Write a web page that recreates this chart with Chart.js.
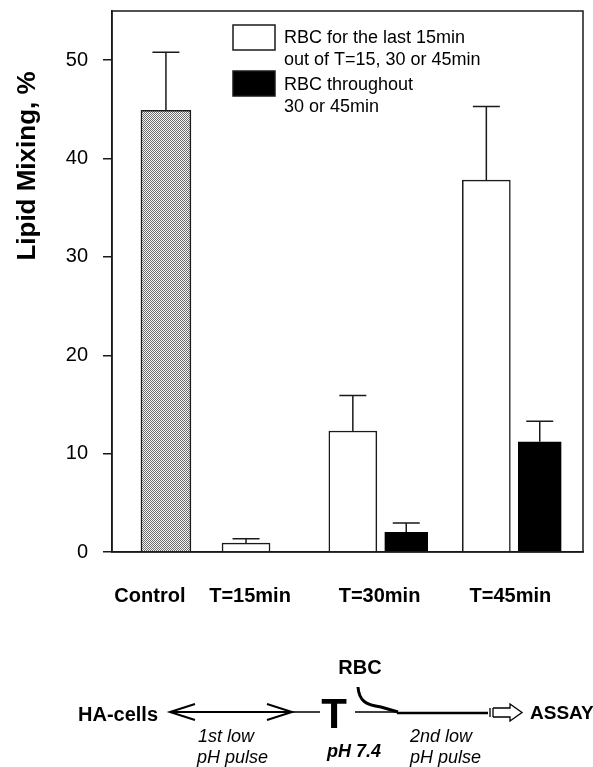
<!DOCTYPE html>
<html>
<head>
<meta charset="utf-8">
<script src="https://cdn.jsdelivr.net/npm/chart.js@4/dist/chart.umd.min.js"></script>
<style>
  body { margin: 0; background: #fff; }
  canvas { display: block; }
</style>
</head>
<body>
<canvas id="mixChart" width="593" height="767"></canvas>
<script>
// Lipid mixing data
const categories = ['Control', 'T=15min', 'T=30min', 'T=45min'];
const controlMixing = [44.9, null, null, null];
const controlErr = [5.9, null, null, null];
const lastMixing = [null, 0.9, 12.3, 37.8];
const lastErr = [null, 0.45, 3.6, 7.5];
const throughoutMixing = [null, null, 2.0, 11.2];
const throughoutErr = [null, null, 0.95, 2.1];
const yTicks = [0, 10, 20, 30, 40, 50];
const legendLabels = [
    ['RBC for the last 15min', 'out of T=15, 30 or 45min'],
    ['RBC throughout', '30 or 45min']
];

// Layout of the category slots along the x axis (axis units)
const slotX = [0, 3, 8, 13];
const labelX = [-0.6, 3.15, 8, 12.9];
const pairGap = 1;

const FONT = "'Liberation Sans', Arial, sans-serif";
const INK = '#1a1a1a';

// Stippled fill for the control bar
function makeStipple() {
    const c = document.createElement('canvas');
    c.width = 2;
    c.height = 2;
    const g = c.getContext('2d');
    g.fillStyle = '#f4f4f4';
    g.fillRect(0, 0, 2, 2);
    g.fillStyle = '#6e6e6e';
    g.fillRect(0, 0, 1, 1);
    g.fillRect(1, 1, 1, 1);
    return g.createPattern(c, 'repeat');
}

function isPair(i) {
    return lastMixing[i] != null && throughoutMixing[i] != null;
}

function toPoints(values, errs, side) {
    const pts = [];
    values.forEach((v, i) => {
        if (v == null) return;
        pts.push({ x: slotX[i] + (isPair(i) ? side * pairGap : 0), y: v, err: errs[i] });
    });
    return pts;
}

// Upper error bars
const errorBars = {
    id: 'errorBars',
    afterDatasetsDraw(chart) {
        const ctx = chart.ctx;
        const y = chart.scales.y;
        ctx.save();
        ctx.strokeStyle = INK;
        ctx.lineWidth = 1.5;
        chart.data.datasets.forEach((ds, di) => {
            const meta = chart.getDatasetMeta(di);
            meta.data.forEach((bar, i) => {
                const p = ds.data[i];
                if (!p || !p.err) return;
                const top = y.getPixelForValue(p.y + p.err);
                ctx.beginPath();
                ctx.moveTo(bar.x, bar.y);
                ctx.lineTo(bar.x, top);
                ctx.moveTo(bar.x - 13.5, top);
                ctx.lineTo(bar.x + 13.5, top);
                ctx.stroke();
            });
        });
        ctx.restore();
    }
};

// Frame, y title, legend and the protocol scheme under the chart
const decorations = {
    id: 'decorations',
    afterDraw(chart) {
        const ctx = chart.ctx;
        const a = chart.chartArea;
        ctx.save();
        ctx.strokeStyle = INK;
        ctx.lineWidth = 1.5;
        ctx.strokeRect(a.left, a.top, a.right - a.left, a.bottom - a.top);

        // y axis title
        ctx.save();
        ctx.translate(28, 166);
        ctx.rotate(-Math.PI / 2);
        ctx.fillStyle = '#000';
        ctx.font = 'bold 26px ' + FONT;
        ctx.textAlign = 'center';
        ctx.textBaseline = 'middle';
        ctx.fillText('Lipid Mixing, %', 0, 0);
        ctx.restore();

        // legend
        const fills = ['#fff', '#000'];
        const boxTop = [25, 71];
        const lineY = [[38, 60], [85, 107]];
        ctx.font = '18px ' + FONT;
        ctx.textAlign = 'left';
        ctx.textBaseline = 'middle';
        legendLabels.forEach((lines, k) => {
            ctx.fillStyle = fills[k];
            ctx.fillRect(233, boxTop[k], 42, 25);
            ctx.strokeRect(233, boxTop[k], 42, 25);
            ctx.fillStyle = '#000';
            lines.forEach((t, j) => ctx.fillText(t, 284, lineY[k][j]));
        });

        // protocol scheme
        const ly = 712;
        ctx.fillStyle = '#000';
        ctx.strokeStyle = '#000';
        ctx.font = 'bold 20px ' + FONT;
        ctx.textBaseline = 'middle';
        ctx.textAlign = 'left';
        ctx.fillText('HA-cells', 78, 715);
        ctx.font = 'bold 19px ' + FONT;
        ctx.fillText('ASSAY', 530, 714);
        ctx.font = 'bold 20px ' + FONT;
        ctx.textAlign = 'center';
        ctx.fillText('RBC', 360, 668);
        ctx.font = 'bold 42px ' + FONT;
        ctx.textBaseline = 'alphabetic';
        ctx.fillText('T', 334, 728);

        ctx.textBaseline = 'middle';
        ctx.font = 'italic bold 18px ' + FONT;
        ctx.fillText('pH 7.4', 354, 752);
        ctx.font = 'italic 18px ' + FONT;
        ctx.textAlign = 'left';
        ctx.fillText('1st low', 198, 737);
        ctx.fillText('pH pulse', 197, 758);
        ctx.fillText('2nd low', 410, 737);
        ctx.fillText('pH pulse', 410, 758);

        // double headed arrow
        ctx.lineWidth = 2;
        ctx.beginPath();
        ctx.moveTo(170, ly);
        ctx.lineTo(292, ly);
        ctx.moveTo(195, ly - 8);
        ctx.lineTo(170, ly);
        ctx.lineTo(195, ly + 8);
        ctx.moveTo(267, ly - 8);
        ctx.lineTo(292, ly);
        ctx.lineTo(267, ly + 8);
        ctx.stroke();
        ctx.lineWidth = 1.5;
        ctx.beginPath();
        ctx.moveTo(292, ly);
        ctx.lineTo(320, ly);
        ctx.moveTo(355, ly);
        ctx.lineTo(397, ly);
        ctx.stroke();
        ctx.lineWidth = 2.5;
        ctx.beginPath();
        ctx.moveTo(397, ly + 1);
        ctx.lineTo(488, ly + 1);
        ctx.stroke();
        // RBC joining curve
        ctx.lineWidth = 3;
        ctx.beginPath();
        ctx.moveTo(358, 687);
        ctx.bezierCurveTo(359, 701, 366, 705, 381, 707);
        ctx.lineTo(398, 712);
        ctx.stroke();
        // hollow block arrow
        ctx.lineWidth = 1.3;
        ctx.beginPath();
        ctx.moveTo(490, ly - 4);
        ctx.lineTo(490, ly + 5);
        ctx.moveTo(493, ly - 4);
        ctx.lineTo(493, ly + 5);
        ctx.stroke();
        ctx.beginPath();
        ctx.moveTo(493, ly - 4);
        ctx.lineTo(510, ly - 4);
        ctx.lineTo(510, ly - 8);
        ctx.lineTo(522, ly + 0.5);
        ctx.lineTo(510, ly + 9);
        ctx.lineTo(510, ly + 5);
        ctx.lineTo(493, ly + 5);
        ctx.stroke();
        ctx.restore();
    }
};

const stipple = makeStipple();

new Chart(document.getElementById('mixChart'), {
    type: 'bar',
    data: {
        datasets: [
            {
                label: 'Control',
                data: toPoints(controlMixing, controlErr, 0),
                backgroundColor: stipple,
                borderColor: INK,
                borderWidth: 1.5,
                barThickness: 50,
                maxBarThickness: 50,
                grouped: false
            },
            {
                label: legendLabels[0].join(' '),
                data: toPoints(lastMixing, lastErr, -1),
                backgroundColor: '#fff',
                borderColor: INK,
                borderWidth: 1.5,
                barThickness: 48,
                maxBarThickness: 48,
                grouped: false
            },
            {
                label: legendLabels[1].join(' '),
                data: toPoints(throughoutMixing, throughoutErr, 1),
                backgroundColor: '#000',
                borderColor: '#000',
                borderWidth: 1,
                barThickness: 43,
                maxBarThickness: 43,
                grouped: false
            }
        ]
    },
    options: {
        responsive: false,
        animation: false,
        layout: { padding: { left: 0, right: 10, top: 11, bottom: 0 } },
        plugins: {
            legend: { display: false },
            tooltip: { enabled: false }
        },
        scales: {
            x: {
                type: 'linear',
                min: -2.02,
                max: 15.62,
                offset: false,
                grid: { display: false, offset: false, drawTicks: false },
                border: { display: true, color: INK, width: 1.5 },
                afterBuildTicks(scale) {
                    scale.ticks = labelX.map(v => ({ value: v }));
                },
                afterFit(scale) {
                    scale.height = 215;
                    scale.paddingLeft = 0;
                    scale.paddingRight = 0;
                },
                ticks: {
                    autoSkip: false,
                    maxRotation: 0,
                    padding: 32,
                    color: '#000',
                    font: { family: FONT, size: 20, weight: 'bold' },
                    callback: (v, i) => categories[i]
                }
            },
            y: {
                min: 0,
                max: 55,
                grid: {
                    drawOnChartArea: false,
                    drawTicks: true,
                    tickLength: 9,
                    color: INK,
                    lineWidth: 1.5
                },
                border: { display: true, color: INK, width: 1.5 },
                afterBuildTicks(scale) {
                    scale.ticks = yTicks.map(v => ({ value: v }));
                },
                afterFit(scale) {
                    scale.width = 112;
                    scale.paddingTop = 0;
                    scale.paddingBottom = 0;
                },
                ticks: {
                    padding: 15,
                    color: '#000',
                    font: { family: FONT, size: 20 }
                }
            }
        }
    },
    plugins: [errorBars, decorations]
});
</script>
</body>
</html>
